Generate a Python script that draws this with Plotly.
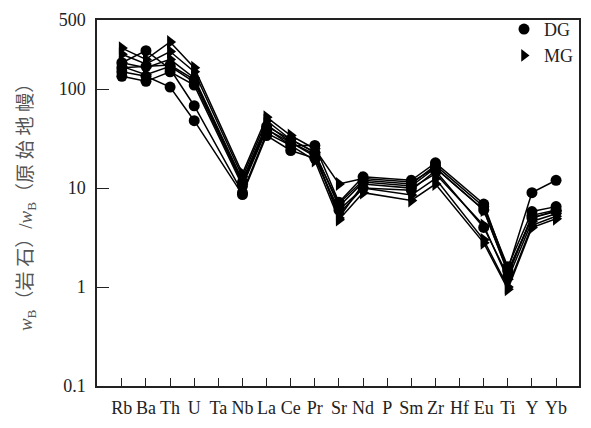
import plotly.graph_objects as go

# Primitive-mantle normalised trace element spider diagram
elements = ["Rb", "Ba", "Th", "U", "Ta", "Nb", "La", "Ce", "Pr", "Sr",
            "Nd", "P", "Sm", "Zr", "Hf", "Eu", "Ti", "Y", "Yb"]

# DG samples (circles); Ta, P and Hf not analysed
dg_1 = [185, 245, 160, 68, None, 9.0, 36, 27, 27, 7.2, 13, None, 12, 18, None, 6.9, 1.5, 9.0, 12.0]
dg_2 = [150, 135, 105, 48, None, 8.6, 34, 24, 20, 6.0, 10, None, 9.5, 15, None, 4.0, 1.3, 5.3, 6.0]
dg_3 = [135, 120, 150, 110, None, 10.5, 39, 29, 22, 7.0, 12, None, 11, 17, None, 6.5, 1.6, 5.8, 6.5]
dg_4 = [165, 170, 175, 125, None, 11.5, 42, 31, 23, 6.5, 11.5, None, 10.5, 16, None, 6.0, 1.45, 5.0, 5.8]

# MG samples (right-pointing triangles)
mg_1 = [260, 200, 300, 165, None, 14.0, 52, 34, 25, 11.0, 12.5, None, 11.5, 16, None, 6.0, 1.4, 5.0, 5.9]
mg_2 = [225, 180, 240, 150, None, 13.0, 48, 31, 23, 5.0, 11, None, 10, 14, None, 4.2, 1.2, 4.6, 5.5]
mg_3 = [185, 165, 200, 130, None, 12.0, 44, 29, 21, 5.5, 10, None, 8.5, 12.5, None, 3.0, 1.0, 4.2, 5.2]
mg_4 = [170, 140, 170, 118, None, 11.0, 40, 27, 19, 4.8, 9, None, 7.5, 11, None, 2.8, 0.95, 4.0, 4.9]

dg_samples = [dg_1, dg_2, dg_3, dg_4]
mg_samples = [mg_1, mg_2, mg_3, mg_4]

y_ticks = [0.1, 1, 10, 100, 500]
y_tick_text = ["0.1", "1", "10", "100", "500"]

fig = go.Figure()

for vals in mg_samples:
    fig.add_trace(go.Scatter(
        x=elements, y=vals, mode="lines+markers", connectgaps=True,
        line=dict(color="black", width=1.5),
        marker=dict(symbol="triangle-right", size=12, color="black"),
        showlegend=False, hoverinfo="skip"))

for vals in dg_samples:
    fig.add_trace(go.Scatter(
        x=elements, y=vals, mode="lines+markers", connectgaps=True,
        line=dict(color="black", width=1.5),
        marker=dict(symbol="circle", size=11, color="black"),
        showlegend=False, hoverinfo="skip"))

# legend entries
fig.add_trace(go.Scatter(x=[None], y=[None], mode="markers", name="DG",
                         marker=dict(symbol="circle", size=11, color="black")))
fig.add_trace(go.Scatter(x=[None], y=[None], mode="markers", name="MG",
                         marker=dict(symbol="triangle-right", size=11, color="black")))

serif = "Liberation Serif"

fig.update_layout(
    width=591, height=428,
    margin=dict(l=97, r=10, t=13, b=39),
    paper_bgcolor="white", plot_bgcolor="white",
    font=dict(family=serif, color="#222", size=17),
    legend=dict(x=1.0, xanchor="right", y=1.025, yanchor="top",
                bgcolor="rgba(0,0,0,0)", font=dict(size=18, family=serif, color="#222"),
                itemwidth=30, tracegroupgap=0),
    xaxis=dict(
        type="category", categoryorder="array", categoryarray=elements,
        range=[-1.03, 18.95],
        showgrid=False, zeroline=False,
        showline=True, linecolor="#222", linewidth=1.5, mirror=True,
        ticks="inside", ticklen=8, tickwidth=1.2, tickcolor="#222",
        tickfont=dict(size=18, family=serif, color="#222"),
        ticklabelstandoff=5,
    ),
    yaxis=dict(
        type="log", range=[-1, 2.699],
        tickvals=y_ticks, ticktext=y_tick_text,
        showgrid=False, zeroline=False,
        showline=True, linecolor="#222", linewidth=1.5, mirror=True,
        ticks="inside", ticklen=12, tickwidth=1.2, tickcolor="#222",
        tickfont=dict(size=18, family=serif, color="#222"),
        ticklabelstandoff=6,
    ),
)

fig.add_annotation(
    xref="paper", yref="paper", x=-0.145, y=0.5, xanchor="center", yanchor="middle",
    textangle=-90, showarrow=False,
    text="<i>w</i><sub>B</sub>（岩 石）/<i>w</i><sub>B</sub>（原 始 地 幔）",
    font=dict(size=19, color="#555", family="Liberation Serif, Noto Sans CJK SC"),
)

fig.write_html("out.html")
